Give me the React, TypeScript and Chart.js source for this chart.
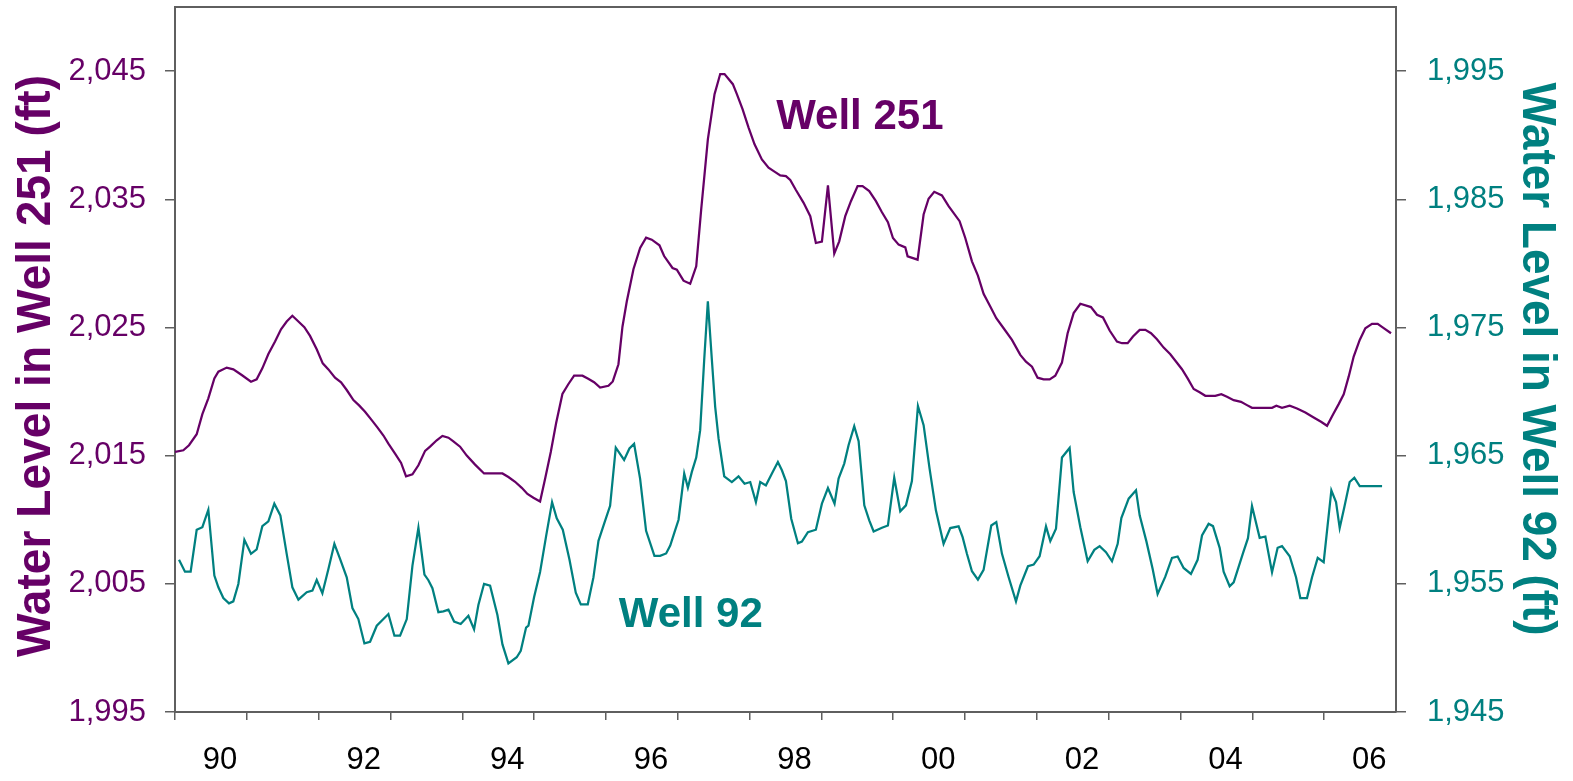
import React, { useEffect, useRef } from "react";
import { Chart, registerables } from "chart.js";

Chart.register(...registerables);

// Well 251 water level (left axis), decimal year vs. feet
const well251Years = [
  1990.0, 1990.116, 1990.195, 1990.302, 1990.381, 1990.464, 1990.548, 1990.604, 1990.72, 1990.812,
  1990.929, 1991.058, 1991.137, 1991.216, 1991.3, 1991.393, 1991.476, 1991.555, 1991.634, 1991.718,
  1991.801, 1991.88, 1991.973, 1992.057, 1992.136, 1992.228, 1992.312, 1992.391, 1992.484, 1992.563,
  1992.646, 1992.739, 1992.823, 1992.902, 1992.971, 1993.064, 1993.148, 1993.217, 1993.306, 1993.389,
  1993.482, 1993.551, 1993.644, 1993.723, 1993.807, 1993.876, 1993.969, 1994.062, 1994.178, 1994.303,
  1994.559, 1994.642, 1994.735, 1994.828, 1994.907, 1994.99, 1995.083, 1995.153, 1995.232, 1995.306,
  1995.394, 1995.478, 1995.557, 1995.673, 1995.747, 1995.835, 1995.919, 1996.035, 1996.095, 1996.174,
  1996.23, 1996.29, 1996.383, 1996.476, 1996.559, 1996.638, 1996.745, 1996.81, 1996.927, 1996.987,
  1997.08, 1997.173, 1997.257, 1997.326, 1997.419, 1997.512, 1997.591, 1997.651, 1997.767, 1997.823,
  1997.902, 1997.986, 1998.069, 1998.171, 1998.264, 1998.357, 1998.427, 1998.506, 1998.566, 1998.645,
  1998.752, 1998.845, 1998.923, 1999.007, 1999.091, 1999.179, 1999.248, 1999.332, 1999.411, 1999.504,
  1999.573, 1999.666, 1999.759, 1999.843, 1999.926, 1999.996, 2000.075, 2000.168, 2000.2, 2000.339,
  2000.423, 2000.492, 2000.571, 2000.678, 2000.771, 2000.924, 2001.003, 2001.096, 2001.179, 2001.258,
  2001.351, 2001.435, 2001.537, 2001.653, 2001.769, 2001.848, 2001.932, 2002.01, 2002.094, 2002.178,
  2002.256, 2002.349, 2002.428, 2002.512, 2002.605, 2002.753, 2002.837, 2002.92, 2003.013, 2003.115,
  2003.185, 2003.264, 2003.338, 2003.431, 2003.51, 2003.589, 2003.672, 2003.765, 2003.858, 2003.95,
  2004.02, 2004.099, 2004.183, 2004.266, 2004.345, 2004.484, 2004.568, 2004.647, 2004.74, 2004.842,
  2004.925, 2004.995, 2005.274, 2005.334, 2005.413, 2005.52, 2005.622, 2005.738, 2005.854, 2005.956,
  2006.04, 2006.123, 2006.202, 2006.272, 2006.341, 2006.411, 2006.495, 2006.573, 2006.666, 2006.745,
  2006.819, 2006.931,
];
const well251Levels = [
  2015.29, 2015.42, 2015.81, 2016.67, 2018.24, 2019.47, 2021.03, 2021.55, 2021.87, 2021.73,
  2021.29, 2020.77, 2020.95, 2021.81, 2022.93, 2023.9, 2024.86, 2025.46, 2025.91, 2025.46,
  2025.02, 2024.34, 2023.3, 2022.2, 2021.73, 2021.08, 2020.72, 2020.12, 2019.33, 2018.92,
  2018.42, 2017.77, 2017.17, 2016.57, 2015.94, 2015.16, 2014.43, 2013.39, 2013.54, 2014.25,
  2015.37, 2015.7, 2016.2, 2016.54, 2016.4, 2016.12, 2015.7, 2015.0, 2014.3, 2013.61,
  2013.61, 2013.33, 2012.96, 2012.49, 2012.01, 2011.71, 2011.42, 2013.19, 2015.28, 2017.52,
  2019.81, 2020.59, 2021.24, 2021.24, 2021.01, 2020.73, 2020.31, 2020.45, 2020.79, 2022.13,
  2025.06, 2027.02, 2029.54, 2031.21, 2032.0, 2031.85, 2031.41, 2030.57, 2029.64, 2029.51,
  2028.65, 2028.41, 2029.77, 2034.2, 2039.68, 2043.2, 2044.77, 2044.77, 2043.98, 2043.2,
  2042.03, 2040.59, 2039.29, 2038.11, 2037.46, 2037.12, 2036.86, 2036.81, 2036.5, 2035.72,
  2034.72, 2033.68, 2031.59, 2031.7, 2036.08, 2030.76, 2031.72, 2033.68, 2034.85, 2036.03,
  2036.03, 2035.64, 2034.85, 2033.99, 2033.21, 2031.98, 2031.46, 2031.25, 2030.55, 2030.29,
  2033.81, 2035.04, 2035.58, 2035.3, 2034.46, 2033.29, 2031.98, 2030.16, 2029.04, 2027.63,
  2026.64, 2025.72, 2024.94, 2024.03, 2022.86, 2022.33, 2021.94, 2021.08, 2020.95, 2020.95,
  2021.24, 2022.26, 2024.55, 2026.12, 2026.85, 2026.59, 2025.99, 2025.78, 2024.76, 2023.9,
  2023.77, 2023.77, 2024.29, 2024.81, 2024.81, 2024.55, 2024.08, 2023.43, 2022.91, 2022.25,
  2021.74, 2021.03, 2020.2, 2019.94, 2019.67, 2019.67, 2019.8, 2019.6, 2019.33, 2019.2,
  2018.94, 2018.73, 2018.73, 2018.89, 2018.73, 2018.89, 2018.68, 2018.37, 2017.98, 2017.64,
  2017.33, 2018.21, 2019.02, 2019.78, 2021.16, 2022.73, 2024.03, 2024.94, 2025.28, 2025.28,
  2024.99, 2024.55,
];

// Well 92 water level (right axis), decimal year vs. feet
const well92Years = [
  1990.056, 1990.139, 1990.218, 1990.302, 1990.381, 1990.464, 1990.548, 1990.604, 1990.673, 1990.752,
  1990.812, 1990.882, 1990.966, 1991.058, 1991.137, 1991.216, 1991.3, 1991.383, 1991.467, 1991.555,
  1991.634, 1991.718, 1991.834, 1991.913, 1991.973, 1992.052, 1992.136, 1992.219, 1992.298, 1992.391,
  1992.47, 1992.553, 1992.637, 1992.716, 1992.809, 1992.971, 1993.055, 1993.134, 1993.227, 1993.306,
  1993.389, 1993.473, 1993.528, 1993.584, 1993.667, 1993.737, 1993.807, 1993.886, 1993.978, 1994.085,
  1994.164, 1994.224, 1994.303, 1994.387, 1994.489, 1994.559, 1994.642, 1994.758, 1994.814, 1994.888,
  1994.921, 1995.0, 1995.083, 1995.167, 1995.25, 1995.315, 1995.399, 1995.492, 1995.58, 1995.65,
  1995.747, 1995.826, 1995.896, 1995.975, 1996.058, 1996.137, 1996.253, 1996.327, 1996.392, 1996.476,
  1996.559, 1996.675, 1996.754, 1996.838, 1996.895, 1996.955, 1997.011, 1997.09, 1997.141, 1997.196,
  1997.257, 1997.312, 1997.368, 1997.419, 1997.475, 1997.521, 1997.568, 1997.647, 1997.753, 1997.846,
  1997.93, 1998.009, 1998.088, 1998.148, 1998.227, 1998.311, 1998.394, 1998.45, 1998.506, 1998.58,
  1998.673, 1998.728, 1998.812, 1998.923, 1999.007, 1999.091, 1999.183, 1999.239, 1999.318, 1999.378,
  1999.457, 1999.518, 1999.597, 1999.666, 1999.727, 1999.843, 1999.926, 2000.014, 2000.098, 2000.177,
  2000.26, 2000.344, 2000.423, 2000.506, 2000.594, 2000.701, 2000.794, 2000.91, 2000.966, 2001.026,
  2001.096, 2001.179, 2001.258, 2001.365, 2001.435, 2001.514, 2001.607, 2001.709, 2001.769, 2001.876,
  2001.955, 2002.038, 2002.127, 2002.187, 2002.266, 2002.349, 2002.456, 2002.512, 2002.605, 2002.707,
  2002.8, 2002.874, 2002.962, 2003.046, 2003.125, 2003.176, 2003.278, 2003.38, 2003.431, 2003.524,
  2003.612, 2003.681, 2003.788, 2003.881, 2003.96, 2004.043, 2004.145, 2004.238, 2004.299, 2004.391,
  2004.452, 2004.545, 2004.6, 2004.684, 2004.74, 2004.87, 2004.939, 2004.995, 2005.102, 2005.181,
  2005.274, 2005.352, 2005.413, 2005.52, 2005.608, 2005.668, 2005.761, 2005.831, 2005.91, 2005.993,
  2006.1, 2006.165, 2006.216, 2006.281, 2006.355, 2006.42, 2006.495, 2006.806,
];
const well92Levels = [
  1956.87, 1955.95, 1955.95, 1959.21, 1959.42, 1960.78, 1955.64, 1954.73, 1953.89, 1953.48,
  1953.63, 1954.99, 1958.43, 1957.34, 1957.68, 1959.5, 1959.87, 1961.25, 1960.34, 1957.34,
  1954.73, 1953.76, 1954.34, 1954.47, 1955.3, 1954.26, 1956.16, 1958.12, 1956.95, 1955.51,
  1953.11, 1952.25, 1950.35, 1950.48, 1951.73, 1952.64, 1950.95, 1950.95, 1952.25, 1956.42,
  1959.37, 1955.72, 1955.28, 1954.66, 1952.79, 1952.85, 1952.99, 1952.06, 1951.87, 1952.51,
  1951.45, 1953.35, 1955.0, 1954.86, 1952.57, 1950.27, 1948.79, 1949.27, 1949.77, 1951.59,
  1951.73, 1953.97, 1955.92, 1958.72, 1961.37, 1960.11, 1959.22, 1956.9, 1954.3, 1953.4,
  1953.4, 1955.5, 1958.35, 1959.69, 1961.09, 1965.62, 1964.67, 1965.56, 1965.92, 1963.19,
  1959.13, 1957.18, 1957.18, 1957.37, 1957.99, 1959.03, 1960.0, 1963.6, 1962.5, 1963.73,
  1964.85, 1966.99, 1972.46, 1977.03, 1972.46, 1968.81, 1966.34, 1963.39, 1962.94, 1963.39,
  1962.81, 1962.94, 1961.38, 1962.94, 1962.68, 1963.6, 1964.51, 1963.86, 1963.02, 1960.08,
  1958.17, 1958.3, 1959.03, 1959.22, 1961.25, 1962.47, 1961.25, 1963.21, 1964.38, 1965.81,
  1967.3, 1966.13, 1961.12, 1959.95, 1959.08, 1959.37, 1959.55, 1963.28, 1960.65, 1961.12,
  1963.02, 1968.87, 1967.38, 1963.99, 1960.73, 1958.12, 1959.35, 1959.48, 1958.64, 1957.34,
  1955.98, 1955.33, 1956.09, 1959.55, 1959.81, 1957.34, 1955.51, 1953.63, 1954.86, 1956.37,
  1956.5, 1957.15, 1959.48, 1958.33, 1959.29, 1964.85, 1965.6, 1962.16, 1959.42, 1956.76,
  1957.65, 1957.94, 1957.47, 1956.76, 1958.12, 1960.13, 1961.64, 1962.29, 1960.34, 1958.33,
  1956.16, 1954.21, 1955.56, 1957.02, 1957.13, 1956.24, 1955.77, 1956.87, 1958.77, 1959.68,
  1959.5, 1957.81, 1955.95, 1954.81, 1955.12, 1957.39, 1958.56, 1961.07, 1958.59, 1958.69,
  1955.9, 1957.81, 1957.94, 1957.15, 1955.51, 1953.89, 1953.89, 1955.51, 1957.02, 1956.69,
  1962.29, 1961.38, 1959.35, 1960.99, 1962.94, 1963.28, 1962.63, 1962.63,
];

// Axis ticks
const yearTicks = [
  1990, 1991, 1992, 1993, 1994, 1995, 1996, 1997, 1998, 1999, 2000, 2001, 2002, 2003, 2004, 2005, 2006,
];
const well251Ticks = [1995, 2005, 2015, 2025, 2035, 2045];
const well92Ticks = [1945, 1955, 1965, 1975, 1985, 1995];

// Series names and where their labels sit (year, level on the series' own axis)
const seriesNames = ["Well 251", "Well 92"];
const labelYears = [1998.37, 1996.18];
const labelLevels = [2040.45, 1951.6];

const axisTitles = ["Water Level in Well 251 (ft)", "Water Level in Well 92 (ft)"];

const PURPLE = "#660066";
const TEAL = "#008080";
const AXIS_GRAY = "#5f5f5f";
const FONT = "'Liberation Sans', Arial, Helvetica, sans-serif";

function drawRotatedTitle(
  ctx: CanvasRenderingContext2D,
  text: string,
  x: number,
  y: number,
  angle: number,
  length: number,
  color: string
) {
  ctx.save();
  ctx.translate(x, y);
  ctx.rotate(angle);
  ctx.font = `bold 48px ${FONT}`;
  const w = ctx.measureText(text).width;
  ctx.scale(length / w, 1);
  ctx.fillStyle = color;
  ctx.textAlign = "center";
  ctx.textBaseline = "alphabetic";
  ctx.fillText(text, 0, 0);
  ctx.restore();
}

const decorPlugin = {
  id: "wellDecor",
  afterDraw(chart: any) {
    const { ctx, chartArea, scales } = chart;
    // top edge of the plot frame
    ctx.save();
    ctx.strokeStyle = AXIS_GRAY;
    ctx.lineWidth = 2;
    ctx.beginPath();
    ctx.moveTo(chartArea.left - 1, chartArea.top);
    ctx.lineTo(chartArea.right + 1, chartArea.top);
    ctx.stroke();
    ctx.restore();

    // series labels
    const colors = [PURPLE, TEAL];
    const axes = [scales.yLeft, scales.yRight];
    ctx.save();
    ctx.font = `bold 42px ${FONT}`;
    ctx.textAlign = "left";
    ctx.textBaseline = "alphabetic";
    seriesNames.forEach((name, i) => {
      ctx.fillStyle = colors[i];
      ctx.fillText(
        name,
        scales.x.getPixelForValue(labelYears[i]),
        axes[i].getPixelForValue(labelLevels[i])
      );
    });
    ctx.restore();

    // axis titles
    drawRotatedTitle(ctx, axisTitles[0], 50, 366, -Math.PI / 2, 582, PURPLE);
    drawRotatedTitle(ctx, axisTitles[1], chart.width - 50, 359, Math.PI / 2, 553, TEAL);
  },
};

export default function App() {
  const canvasRef = useRef<HTMLCanvasElement | null>(null);

  useEffect(() => {
    const canvas = canvasRef.current;
    if (!canvas) return;

    const tickFont = { family: FONT, size: 31 };
    const fmt = (v: number) => Number(v).toLocaleString("en-US");

    const chart = new Chart(canvas, {
      type: "line",
      data: {
        datasets: [
          {
            label: seriesNames[0],
            data: well251Years.map((x, i) => ({ x, y: well251Levels[i] })),
            yAxisID: "yLeft",
            borderColor: PURPLE,
            borderWidth: 2.25,
            pointRadius: 0,
            tension: 0,
            fill: false,
          },
          {
            label: seriesNames[1],
            data: well92Years.map((x, i) => ({ x, y: well92Levels[i] })),
            yAxisID: "yRight",
            borderColor: TEAL,
            borderWidth: 2.25,
            pointRadius: 0,
            tension: 0,
            fill: false,
          },
        ],
      },
      options: {
        responsive: false,
        animation: false,
        events: [],
        layout: { padding: { top: 7, left: 0, right: 0, bottom: 0 } },
        plugins: {
          legend: { display: false },
          tooltip: { enabled: false },
        },
        scales: {
          x: {
            type: "linear",
            min: 1990,
            max: 2007,
            afterBuildTicks: (s: any) => {
              s.ticks = yearTicks.map((value) => ({ value }));
            },
            afterFit: (s: any) => {
              s.height = 69;
              s.paddingLeft = 0;
              s.paddingRight = 0;
            },
            ticks: {
              autoSkip: false,
              maxRotation: 0,
              minRotation: 0,
              labelOffset: 45,
              padding: 22,
              color: "#000000",
              font: tickFont,
              callback: (v: any) =>
                Number(v) % 2 === 0 ? String(Number(v) % 100).padStart(2, "0") : "",
            },
            grid: {
              drawOnChartArea: false,
              drawTicks: true,
              tickLength: 8,
              color: AXIS_GRAY,
              lineWidth: 1.5,
            },
            border: { display: true, color: AXIS_GRAY, width: 2 },
          },
          yLeft: {
            type: "linear",
            position: "left",
            min: 1995,
            max: 2050,
            afterBuildTicks: (s: any) => {
              s.ticks = well251Ticks.map((value) => ({ value }));
            },
            afterFit: (s: any) => {
              s.width = 175;
              s.paddingTop = 0;
              s.paddingBottom = 0;
            },
            ticks: {
              padding: 19,
              color: PURPLE,
              font: tickFont,
              callback: (v: any) => fmt(v),
            },
            grid: {
              drawOnChartArea: false,
              drawTicks: true,
              tickLength: 10,
              color: AXIS_GRAY,
              lineWidth: 1.5,
            },
            border: { display: true, color: AXIS_GRAY, width: 2 },
          },
          yRight: {
            type: "linear",
            position: "right",
            min: 1945,
            max: 2000,
            afterBuildTicks: (s: any) => {
              s.ticks = well92Ticks.map((value) => ({ value }));
            },
            afterFit: (s: any) => {
              s.width = 177;
              s.paddingTop = 0;
              s.paddingBottom = 0;
            },
            ticks: {
              padding: 21,
              color: TEAL,
              font: tickFont,
              callback: (v: any) => fmt(v),
            },
            grid: {
              drawOnChartArea: false,
              drawTicks: true,
              tickLength: 10,
              color: AXIS_GRAY,
              lineWidth: 1.5,
            },
            border: { display: true, color: AXIS_GRAY, width: 2 },
          },
        },
      } as any,
      plugins: [decorPlugin],
    });

    return () => chart.destroy();
  }, []);

  return (
    <div
      style={{
        position: "fixed",
        left: 0,
        top: 0,
        width: 1573,
        height: 781,
        background: "#ffffff",
      }}
    >
      <canvas ref={canvasRef} width={1573} height={781} style={{ display: "block" }} />
    </div>
  );
}
